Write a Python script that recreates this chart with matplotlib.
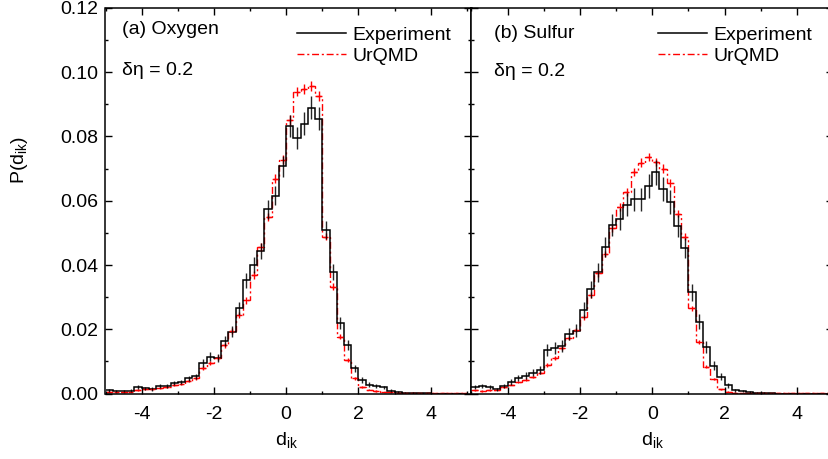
import numpy as np
import matplotlib
matplotlib.use("Agg")
import matplotlib.pyplot as plt
from matplotlib.lines import Line2D
from matplotlib.ticker import MultipleLocator, FormatStrFormatter

plt.rcParams["font.family"] = ["Liberation Sans", "DejaVu Sans"]
plt.rcParams["axes.unicode_minus"] = False
plt.rcParams["mathtext.fontset"] = "custom"
plt.rcParams["mathtext.rm"] = "Liberation Sans"

# ---- data: 50 bins of width 0.2 from -5 to 5 ----
bin_lo, bin_hi, n_bins = -5.0, 5.0, 50

oxy_exp = [0.0010, 0.0008, 0.0008, 0.0009, 0.0020, 0.0016, 0.0014, 0.0023, 0.0023, 0.0032,
           0.0036, 0.0048, 0.0053, 0.0094, 0.0115, 0.0111, 0.0163, 0.0192, 0.0265, 0.0352,
           0.0400, 0.0444, 0.0573, 0.0616, 0.0707, 0.0832, 0.0795, 0.0840, 0.0890, 0.0855,
           0.0508, 0.0378, 0.0219, 0.0150, 0.0078, 0.0042, 0.0028, 0.0024, 0.0019, 0.0009,
           0.0005, 0.0003, 0.0002, 0.0001, 0.0001, 0.0000, 0.0000, 0.0000, 0.0000, 0.0000]
oxy_exp_err = [0.0004, 0.0004, 0.0004, 0.0004, 0.0006, 0.0005, 0.0005, 0.0006, 0.0006, 0.0007,
               0.0007, 0.0008, 0.0009, 0.0012, 0.0013, 0.0013, 0.0016, 0.0017, 0.0020, 0.0023,
               0.0025, 0.0026, 0.0029, 0.0030, 0.0032, 0.0035, 0.0034, 0.0035, 0.0037, 0.0036,
               0.0028, 0.0024, 0.0018, 0.0015, 0.0011, 0.0008, 0.0007, 0.0006, 0.0005, 0.0004,
               0.0003, 0.0002, 0.0002, 0.0001, 0.0001, 0.0000, 0.0000, 0.0000, 0.0000, 0.0000]
oxy_urq = [0.0005, 0.0004, 0.0005, 0.0006, 0.0012, 0.0013, 0.0013, 0.0018, 0.0020, 0.0026,
           0.0030, 0.0040, 0.0047, 0.0080, 0.0095, 0.0112, 0.0150, 0.0195, 0.0245, 0.0290,
           0.0368, 0.0456, 0.0550, 0.0668, 0.0727, 0.0851, 0.0940, 0.0948, 0.0957, 0.0926,
           0.0488, 0.0333, 0.0177, 0.0104, 0.0047, 0.0021, 0.0012, 0.0008, 0.0005, 0.0004,
           0.0003, 0.0002, 0.0002, 0.0001, 0.0001, 0.0001, 0.0001, 0.0001, 0.0001, 0.0001]
oxy_urq_err = [0.0002, 0.0002, 0.0002, 0.0002, 0.0003, 0.0003, 0.0003, 0.0003, 0.0003, 0.0004,
               0.0004, 0.0005, 0.0005, 0.0006, 0.0007, 0.0007, 0.0008, 0.0009, 0.0010, 0.0011,
               0.0012, 0.0013, 0.0013, 0.0014, 0.0014, 0.0015, 0.0015, 0.0015, 0.0015, 0.0015,
               0.0011, 0.0010, 0.0007, 0.0006, 0.0004, 0.0003, 0.0002, 0.0002, 0.0001, 0.0001,
               0.0001, 0.0001, 0.0001, 0.0001, 0.0001, 0.0001, 0.0001, 0.0001, 0.0001, 0.0001]

sul_exp = [0.0021, 0.0023, 0.0021, 0.0013, 0.0024, 0.0037, 0.0049, 0.0055, 0.0065, 0.0073,
           0.0135, 0.0141, 0.0148, 0.0185, 0.0196, 0.0260, 0.0324, 0.0377, 0.0457, 0.0525,
           0.0543, 0.0587, 0.0605, 0.0605, 0.0645, 0.0689, 0.0636, 0.0596, 0.0521, 0.0452,
           0.0315, 0.0224, 0.0144, 0.0087, 0.0052, 0.0026, 0.0010, 0.0008, 0.0004, 0.0003,
           0.0002, 0.0001, 0.0000, 0.0000, 0.0000, 0.0000, 0.0000, 0.0000, 0.0000, 0.0000]
sul_exp_err = [0.0006, 0.0006, 0.0006, 0.0005, 0.0007, 0.0009, 0.0010, 0.0011, 0.0012, 0.0013,
               0.0018, 0.0018, 0.0018, 0.0020, 0.0021, 0.0024, 0.0026, 0.0029, 0.0031, 0.0034,
               0.0034, 0.0036, 0.0036, 0.0036, 0.0037, 0.0039, 0.0037, 0.0036, 0.0034, 0.0031,
               0.0026, 0.0022, 0.0018, 0.0014, 0.0011, 0.0008, 0.0005, 0.0004, 0.0003, 0.0002,
               0.0002, 0.0001, 0.0000, 0.0000, 0.0000, 0.0000, 0.0000, 0.0000, 0.0000, 0.0000]
sul_urq = [0.0010, 0.0008, 0.0010, 0.0012, 0.0020, 0.0028, 0.0035, 0.0043, 0.0052, 0.0065,
           0.0089, 0.0110, 0.0141, 0.0172, 0.0198, 0.0237, 0.0307, 0.0374, 0.0435, 0.0514,
           0.0580, 0.0628, 0.0689, 0.0719, 0.0737, 0.0720, 0.0700, 0.0656, 0.0559, 0.0488,
           0.0265, 0.0161, 0.0083, 0.0044, 0.0013, 0.0006, 0.0003, 0.0002, 0.0001, 0.0001,
           0.0001, 0.0001, 0.0001, 0.0001, 0.0001, 0.0001, 0.0001, 0.0001, 0.0001, 0.0001]
sul_urq_err = [0.0002, 0.0002, 0.0002, 0.0002, 0.0003, 0.0003, 0.0003, 0.0004, 0.0004, 0.0004,
               0.0005, 0.0006, 0.0006, 0.0007, 0.0007, 0.0008, 0.0009, 0.0010, 0.0010, 0.0011,
               0.0012, 0.0012, 0.0013, 0.0013, 0.0013, 0.0013, 0.0013, 0.0012, 0.0011, 0.0011,
               0.0008, 0.0006, 0.0005, 0.0003, 0.0002, 0.0001, 0.0001, 0.0001, 0.0001, 0.0001,
               0.0001, 0.0001, 0.0001, 0.0001, 0.0001, 0.0001, 0.0001, 0.0001, 0.0001, 0.0001]

panel_titles = ["(a) Oxygen", "(b) Sulfur"]
annotation = "\u03b4\u03b7 = 0.2"
series_labels = ["Experiment", "UrQMD"]
x_ticks = [-4, -2, 0, 2, 4]

edges = np.linspace(bin_lo, bin_hi, n_bins + 1)
centers = 0.5 * (edges[:-1] + edges[1:])

W, H = 829, 459
fig = plt.figure(figsize=(W / 100, H / 100), dpi=100)
axL = fig.add_axes([105.5 / W, 65.5 / H, 366 / W, 385.5 / H])
axR = fig.add_axes([471.5 / W, 65.5 / H, 361.5 / W, 385.5 / H])

red_ls = (0, (5, 2, 1.5, 2))
FS = 14

def draw(ax, exp, exp_err, urq, urq_err, xlim, title, tpos, dpos, legx, ylabels):
    ax.stairs(urq, edges, baseline=None, color="red", lw=1.0, linestyle=red_ls)
    ax.errorbar(centers, urq, yerr=urq_err, xerr=0.07, fmt="none",
                ecolor="red", elinewidth=1.0, capsize=0)
    ax.stairs(exp, edges, baseline=None, color="black", lw=1.1)
    ax.errorbar(centers, exp, yerr=exp_err, fmt="none",
                ecolor="black", elinewidth=1.0, capsize=0, alpha=0.85)
    ax.set_xlim(*xlim)
    ax.set_ylim(0, 0.12)
    ax.xaxis.set_major_locator(MultipleLocator(2))
    ax.xaxis.set_minor_locator(MultipleLocator(1))
    ax.set_xticks(x_ticks)
    ax.yaxis.set_major_locator(MultipleLocator(0.02))
    ax.yaxis.set_minor_locator(MultipleLocator(0.01))
    ax.yaxis.set_major_formatter(FormatStrFormatter("%.2f"))
    ax.tick_params(which="both", direction="in", top=True, right=True,
                   labelsize=FS, width=1.0)
    ax.tick_params(which="major", length=5)
    ax.tick_params(which="minor", length=2.5)
    ax.tick_params(axis="x", pad=9)
    ax.tick_params(axis="y", pad=5)
    if not ylabels:
        ax.tick_params(axis="y", labelleft=False)
    for s in ax.spines.values():
        s.set_linewidth(1.1)
    ax.text(tpos[0], tpos[1], title, transform=ax.transAxes, fontsize=FS,
            va="center", ha="left")
    ax.text(dpos[0], dpos[1], annotation, transform=ax.transAxes, fontsize=FS,
            va="center", ha="left")
    handles = [Line2D([], [], color="black", lw=1.1),
               Line2D([], [], color="red", lw=1.0, linestyle=red_ls)]
    ax.legend(handles, series_labels, loc="upper left", bbox_to_anchor=(legx, 0.953),
              frameon=False, fontsize=FS, borderpad=0, borderaxespad=0,
              handlelength=2.5, handletextpad=0.35, labelspacing=0.2)

draw(axL, oxy_exp, oxy_exp_err, oxy_urq, oxy_urq_err, (-5, 5.13),
     panel_titles[0], (0.044, 0.945), (0.044, 0.839), 0.523, True)
draw(axR, sul_exp, sul_exp_err, sul_urq, sul_urq_err, (-5, 5),
     panel_titles[1], (0.062, 0.935), (0.062, 0.834), 0.516, False)

fig.text(20 / W, 1 - 160 / H, "P(d$_\\mathregular{ik}$)", rotation=90,
         ha="center", va="center", fontsize=FS)
fig.text(286 / W, 1 - 441 / H, "d$_\\mathregular{ik}$", ha="center", va="center", fontsize=FS)
fig.text(652 / W, 1 - 441 / H, "d$_\\mathregular{ik}$", ha="center", va="center", fontsize=FS)

fig.savefig("out.png", dpi=100)
